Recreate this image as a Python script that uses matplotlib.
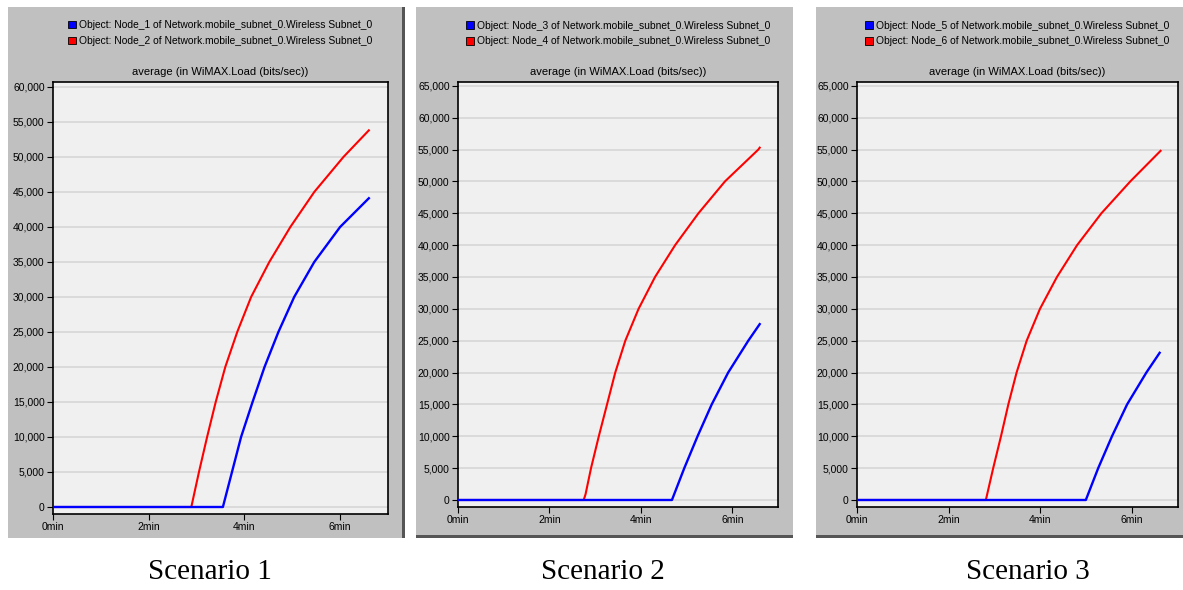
import numpy as np
import matplotlib
matplotlib.use('Agg')
from matplotlib import pyplot as plt
from matplotlib.patches import Rectangle, Patch
from matplotlib.ticker import FuncFormatter

plt.rcParams['font.family'] = ['Liberation Sans Narrow', 'Liberation Sans', 'DejaVu Sans']

# data (minutes, bits/sec) at the gridline crossings
s1_blue_t = [0, 3.55, 3.74, 3.93, 4.17, 4.42, 4.71, 5.04, 5.46, 6.00, 6.60]
s1_blue_v = [0, 0, 5000, 10000, 15000, 20000, 25000, 30000, 35000, 40000, 44100]
s1_red_t = [0, 2.89, 3.05, 3.22, 3.40, 3.60, 3.85, 4.14, 4.52, 4.96, 5.46, 6.07, 6.60]
s1_red_v = [0, 0, 5000, 10000, 15000, 20000, 25000, 30000, 35000, 40000, 45000, 50000, 53800]

s2_blue_t = [0, 4.68, 4.95, 5.24, 5.55, 5.91, 6.35, 6.60]
s2_blue_v = [0, 0, 5000, 10000, 15000, 20000, 25000, 27600]
s2_red_t = [0, 2.75, 2.79, 2.91, 3.08, 3.26, 3.44, 3.66, 3.95, 4.31, 4.75, 5.26, 5.84, 6.57, 6.60]
s2_red_v = [0, 0, 900, 5000, 10000, 15000, 20000, 25000, 30000, 35000, 40000, 45000, 50000,
            55000, 55300]

s3_blue_t = [0, 4.99, 5.26, 5.56, 5.89, 6.31, 6.60]
s3_blue_v = [0, 0, 5000, 10000, 15000, 20000, 23100]
s3_red_t = [0, 2.81, 2.97, 3.14, 3.30, 3.48, 3.70, 3.99, 4.36, 4.80, 5.33, 5.96, 6.62]
s3_red_v = [0, 0, 5000, 10000, 15000, 20000, 25000, 30000, 35000, 40000, 45000, 50000, 54800]

node_pairs = [(1, 2), (3, 4), (5, 6)]
scenario_names = ['Scenario 1', 'Scenario 2', 'Scenario 3']
y_max = [60000, 65000, 65000]
x_ticks = [0, 2, 4, 6]
x_tick_labels = ['0min', '2min', '4min', '6min']

series = [
    (s1_blue_t, s1_blue_v, s1_red_t, s1_red_v),
    (s2_blue_t, s2_blue_v, s2_red_t, s2_red_v),
    (s3_blue_t, s3_blue_v, s3_red_t, s3_red_v),
]

W, H = 1183, 590
fig = plt.figure(figsize=(W / 100, H / 100), dpi=100)
fig.patch.set_facecolor('white')

def fx(px):
    return px / W

def fy(py):
    return 1 - py / H

# grey screenshot panels (left, right, top, bottom in pixels)
panels = [(8, 405, 7, 538), (416, 793, 7, 538), (816, 1183, 7, 538)]
# plot boxes (left, right, top, bottom) and y-limits
boxes = [(53, 388, 82, 514), (458, 778, 82, 507), (857, 1178, 82, 507)]
ylims = [(-1000, 60700), (-1100, 65600), (-1100, 65600)]
label_x = [210, 603, 1028]

for i, (l, r, t, b) in enumerate(panels):
    fig.patches.append(Rectangle((fx(l), fy(b)), fx(r - l), (b - t) / H,
                                 transform=fig.transFigure, facecolor='#c0c0c0',
                                 edgecolor='none', zorder=-2))
    if i == 0:
        fig.patches.append(Rectangle((fx(r - 3), fy(b)), fx(3), (b - t) / H,
                                     transform=fig.transFigure, facecolor='#555555',
                                     edgecolor='none', zorder=-1))
    else:
        fig.patches.append(Rectangle((fx(l), fy(b)), fx(r - l), 3 / H,
                                     transform=fig.transFigure, facecolor='#555555',
                                     edgecolor='none', zorder=-1))

fmt = FuncFormatter(lambda v, p: '{:,.0f}'.format(v))

for i in range(3):
    l, r, t, b = boxes[i]
    ax = fig.add_axes([fx(l), fy(b), fx(r - l), (b - t) / H])
    ax.set_facecolor('#f0f0f0')
    bt, bv, rt, rv = series[i]
    ax.plot(rt, rv, color='#ff0000', lw=1.5, zorder=3, solid_joinstyle='round')
    ax.plot(bt, bv, color='#0000ff', lw=1.7, zorder=4, solid_joinstyle='round')
    ax.set_xlim(0, 7)
    ax.set_ylim(*ylims[i])
    ax.set_yticks(np.arange(0, y_max[i] + 1, 5000))
    ax.yaxis.set_major_formatter(fmt)
    ax.set_xticks(x_ticks)
    ax.set_xticklabels(x_tick_labels)
    ax.grid(axis='y', color='#d6d6d6', lw=1.2)
    ax.set_axisbelow(True)
    ax.tick_params(axis='both', labelsize=7.5, length=4, width=0.8, colors='black', pad=2)
    for sp in ax.spines.values():
        sp.set_linewidth(1.2)
        sp.set_color('black')
    ax.set_title('average (in WiMAX.Load (bits/sec))', fontsize=8, pad=5)
    a, c = node_pairs[i]
    handles = [Patch(facecolor='#0000ff', edgecolor='black', lw=0.6),
               Patch(facecolor='#ff0000', edgecolor='black', lw=0.6)]
    labels = ['Object: Node_%d of Network.mobile_subnet_0.Wireless Subnet_0' % a,
              'Object: Node_%d of Network.mobile_subnet_0.Wireless Subnet_0' % c]
    ax.legend(handles, labels, loc='lower center', bbox_to_anchor=(0.5, 1.074),
              frameon=False, fontsize=7.4, handlelength=0.75, handleheight=0.75,
              handletextpad=0.3, labelspacing=0.55, borderaxespad=0)
    fig.text(fx(label_x[i]), fy(572), scenario_names[i], ha='center', va='center',
             fontsize=21, family=['Liberation Serif', 'DejaVu Serif'])

plt.savefig('out.png', dpi=100)
